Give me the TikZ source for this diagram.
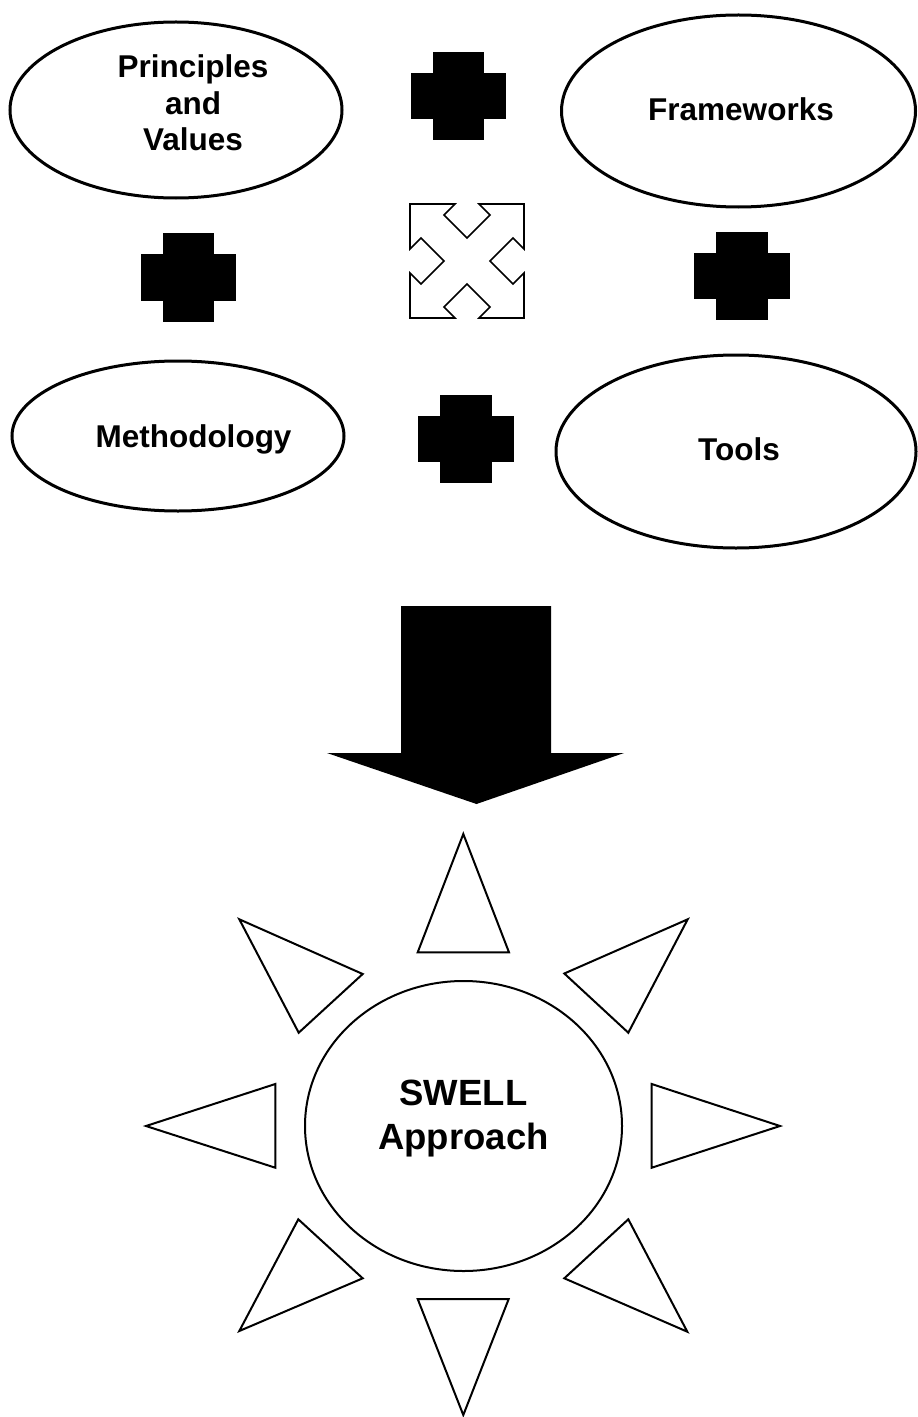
\documentclass[tikz,border=0pt]{standalone}
\usepackage{fontspec}
\setmainfont{Liberation Sans}
\usetikzlibrary{shapes.geometric}
\begin{document}
\begin{tikzpicture}[x=1bp,y=-1bp,
  oval/.style={ellipse, draw, line width=3bp, inner sep=0pt, outer sep=0pt},
  lbl/.style={font=\bfseries\fontsize{31.5bp}{36.5bp}\selectfont, align=center, inner sep=0pt},
  biglbl/.style={font=\bfseries\fontsize{36.5bp}{44bp}\selectfont, align=center, inner sep=0pt},
  ray/.style={draw, line width=2bp, line join=miter, fill=white},
  plussign/.pic={
    \fill (-25.7,-44.2) rectangle (25.7,44.2);
    \fill (-47.7,-23) rectangle (47.7,23);
  },
  crossarrows/.pic={
    \draw[line width=1.6bp, line join=miter]
      (-57,-57) -- (-12,-57) -- (-23,-46) -- (0,-23) -- (23,-46) -- (12,-57)
      -- (57,-57) -- (57,-12) -- (46,-23) -- (23,0) -- (46,23) -- (57,12)
      -- (57,57) -- (12,57) -- (23,46) -- (0,23) -- (-23,46) -- (-12,57)
      -- (-57,57) -- (-57,12) -- (-46,23) -- (-23,0) -- (-46,-23) -- (-57,-12)
      -- cycle;
  }]
\useasboundingbox (0,0) rectangle (917,1417);

% the four building blocks
\node[oval, minimum width=332bp, minimum height=176bp] (pv) at (176,110) {};
\node[oval, minimum width=354bp, minimum height=192bp] (fw) at (738.5,111) {};
\node[oval, minimum width=332bp, minimum height=150bp] (me) at (178,436) {};
\node[oval, minimum width=360bp, minimum height=193bp] (to) at (736,451.5) {};

\node[lbl] (pvt) at (193,103) {Principles\\and\\Values};
\node[lbl, anchor=base] (fwt) at (741,120.7) {Frameworks};
\node[lbl, anchor=base] (met) at (193.5,447) {Methodology};
\node[lbl, anchor=base] (tot) at (739,460.7) {Tools};

% plus signs between the blocks
\pic at (458.3,96) {plussign};
\pic at (188.5,277.5) {plussign};
\pic at (742,276) {plussign};
\pic at (466,439) {plussign};

% outward arrows in the middle
\pic at (467,261) {crossarrows};

% big downward arrow
\fill (401,606) -- (551,606) -- (551,753) -- (624,753) -- (476.5,804)
  -- (327,753) -- (401,753) -- cycle;

% sun: rays
\path[ray] (463.3,834) -- (417.7,952.3) -- (509,952.3) -- cycle;
\path[ray] (239.3,919.3) -- (362.7,974) -- (298.7,1032.7) -- cycle;
\path[ray] (687.7,919.3) -- (564.3,973.5) -- (628.3,1032.7) -- cycle;
\path[ray] (146,1126) -- (275.3,1084) -- (275.3,1167.7) -- cycle;
\path[ray] (780,1126) -- (651.7,1084) -- (651.7,1167.7) -- cycle;
\path[ray] (298.3,1219.3) -- (362.7,1278.3) -- (239.3,1331) -- cycle;
\path[ray] (417.7,1299) -- (508.7,1299) -- (463.3,1415) -- cycle;
\path[ray] (628.3,1219.3) -- (564.3,1278.3) -- (687.3,1331.7) -- cycle;

% sun: centre
\node[ellipse, draw, line width=2bp, inner sep=0pt, minimum width=317bp, minimum height=290bp] (sw) at (463.5,1126) {};
\node[biglbl] (swt) at (463.5,1119) {SWELL\\Approach};
\end{tikzpicture}
\end{document}
